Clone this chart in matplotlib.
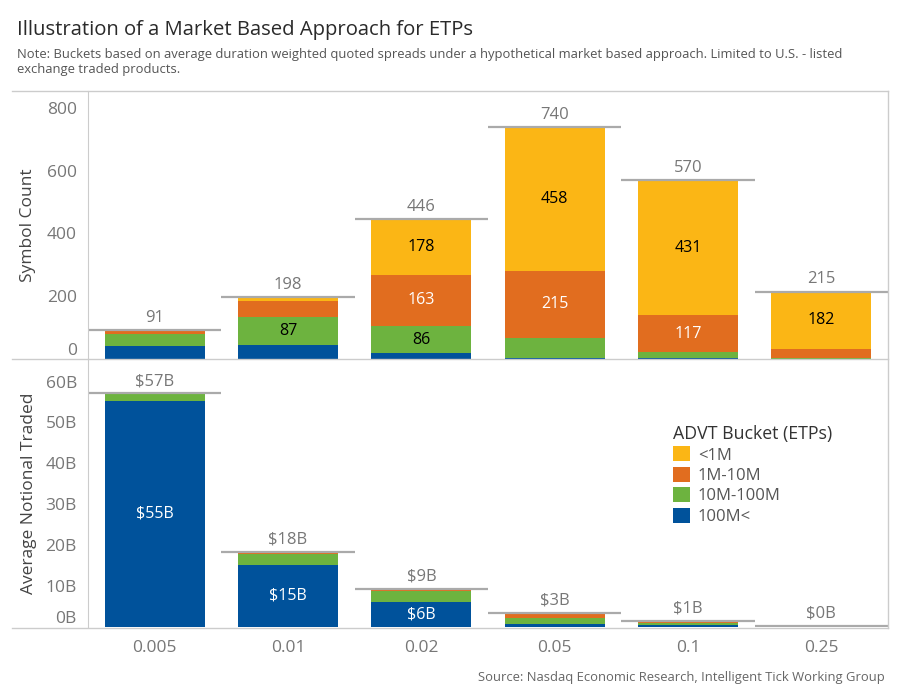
import numpy as np
import matplotlib
matplotlib.use("Agg")
import matplotlib.pyplot as plt
from matplotlib.lines import Line2D
from matplotlib.patches import Patch

plt.rcParams['font.family'] = ['Open Sans', 'DejaVu Sans']

spreads = ["0.005", "0.01", "0.02", "0.05", "0.1", "0.25"]
buckets = ["<1M", "1M-10M", "10M-100M", "100M<"]
colors = {"<1M": "#FBB615", "1M-10M": "#E16D1F", "10M-100M": "#6DB33F", "100M<": "#00529B"}

# symbol counts per bucket
count_blue = [42, 46, 19, 2, 4, 1]
count_green = [39, 87, 86, 65, 18, 3]
count_orange = [8, 52, 163, 215, 117, 29]
count_yellow = [2, 13, 178, 458, 431, 182]
count_total = [91, 198, 446, 740, 570, 215]

# average notional traded ($B) per bucket
notional_blue = [55.3, 15.2, 6.1, 0.7, 0.6, 0.0]
notional_green = [1.6, 2.6, 2.6, 1.5, 0.3, 0.0]
notional_orange = [0.15, 0.5, 0.5, 1.1, 0.5, 0.05]
notional_yellow = [0.05, 0.1, 0.1, 0.1, 0.05, 0.25]
notional_total = [57.1, 18.4, 9.3, 3.4, 1.45, 0.3]

count_labels = {"<1M": [None, None, "178", "458", "431", "182"],
                "1M-10M": [None, None, "163", "215", "117", None],
                "10M-100M": [None, "87", "86", None, None, None],
                "100M<": [None, None, None, None, None, None]}
notional_labels = {"100M<": ["$55B", "$15B", "$6B", None, None, None]}
total_count_text = ["91", "198", "446", "740", "570", "215"]
total_notional_text = ["$57B", "$18B", "$9B", "$3B", "$1B", "$0B"]

label_color = {"<1M": "black", "1M-10M": "white", "10M-100M": "black", "100M<": "white"}
grid_grey = "#cccccc"
tick_grey = "#777777"


def draw_panel(ax, series, totals, total_text, labels):
    x = np.arange(len(spreads))
    bottom = np.zeros(len(spreads))
    for name in ["100M<", "10M-100M", "1M-10M", "<1M"]:
        vals = np.array(series[name], dtype=float)
        ax.bar(x, vals, bottom=bottom, width=0.75, color=colors[name], linewidth=0)
        for i, txt in enumerate(labels.get(name, [None] * 6)):
            if txt:
                ax.text(x[i], bottom[i] + vals[i] / 2, txt, ha="center", va="center",
                        fontsize=11.5, color=label_color[name])
        bottom += vals
    for i, t in enumerate(totals):
        ax.plot([i - 0.5, i + 0.5], [t, t], color="#aaaaaa", lw=1.6, solid_capstyle="butt")
        ax.annotate(total_text[i], (i, t), xytext=(0, 3), textcoords="offset points",
                    ha="center", va="bottom", fontsize=12, color="#777777")
    ax.set_xlim(-0.5, len(spreads) - 0.5)
    for s in ["top", "right", "bottom"]:
        ax.spines[s].set_visible(False)
    ax.spines["left"].set_color(grid_grey)
    ax.tick_params(axis="y", length=0, labelsize=12.5, labelcolor=tick_grey, pad=8)


fig = plt.figure(figsize=(9, 7), dpi=100)

ax1 = fig.add_axes([88 / 900, (700 - 359) / 700, 800 / 900, 268 / 700])
draw_panel(ax1, {"<1M": count_yellow, "1M-10M": count_orange, "10M-100M": count_green, "100M<": count_blue},
           count_total, total_count_text, count_labels)
ax1.set_ylim(0, 854)
ax1.set_yticks([0, 200, 400, 600, 800])
ax1.set_xticks([])
ax1.set_ylabel("Symbol Count", fontsize=12.5, color="#444444", labelpad=8)
ax1.get_yticklabels()[0].set_va("bottom")

ax2 = fig.add_axes([88 / 900, (700 - 627) / 700, 800 / 900, 268 / 700])
draw_panel(ax2, {"<1M": notional_yellow, "1M-10M": notional_orange, "10M-100M": notional_green, "100M<": notional_blue},
           notional_total, total_notional_text, notional_labels)
ax2.set_ylim(0, 65.5)
ax2.set_yticks([0, 10, 20, 30, 40, 50, 60])
ax2.set_yticklabels(["0B", "10B", "20B", "30B", "40B", "50B", "60B"])
ax2.get_yticklabels()[0].set_va("bottom")
ax2.set_xticks(np.arange(len(spreads)))
ax2.set_xticklabels(spreads)
ax2.tick_params(axis="x", length=0, labelsize=12.5, labelcolor=tick_grey, pad=9)
ax2.set_ylabel("Average Notional Traded", fontsize=12.5, color="#444444", labelpad=6)

# frame lines like the dashboard
for ypx in [91, 359, 627.5]:
    fig.add_artist(Line2D([12 / 900, 888 / 900], [1 - ypx / 700, 1 - ypx / 700],
                          transform=fig.transFigure, color=grid_grey, lw=1))
fig.add_artist(Line2D([888 / 900, 888 / 900], [1 - 91 / 700, 1 - 627.5 / 700],
                      transform=fig.transFigure, color=grid_grey, lw=1))

handles = [Patch(facecolor=colors[b], edgecolor="none") for b in buckets]
leg = fig.legend(handles, buckets, title="ADVT Bucket (ETPs)", loc="upper left",
                 bbox_to_anchor=(658 / 900, 1 - 410 / 700), frameon=False,
                 fontsize=12, title_fontsize=12.8, handlelength=1.0, handleheight=1.0,
                 handletextpad=0.5, labelspacing=0.2, alignment="left", labelcolor="#555555")
leg.get_title().set_color("#333333")

fig.text(17 / 900, 1 - 30 / 700, "Illustration of a Market Based Approach for ETPs",
         fontsize=14.6, color="#2a2a2a", va="center", ha="left")
fig.text(17 / 900, 1 - 62 / 700,
         "Note: Buckets based on average duration weighted quoted spreads under a hypothetical market based approach. Limited to U.S. - listed\nexchange traded products.",
         fontsize=9.4, color="#555555", va="center", ha="left", linespacing=1.2)
fig.text(885 / 900, 1 - 677 / 700, "Source: Nasdaq Economic Research, Intelligent Tick Working Group",
         fontsize=9.4, color="#666666", va="center", ha="right")

fig.savefig("out.png", dpi=100)
